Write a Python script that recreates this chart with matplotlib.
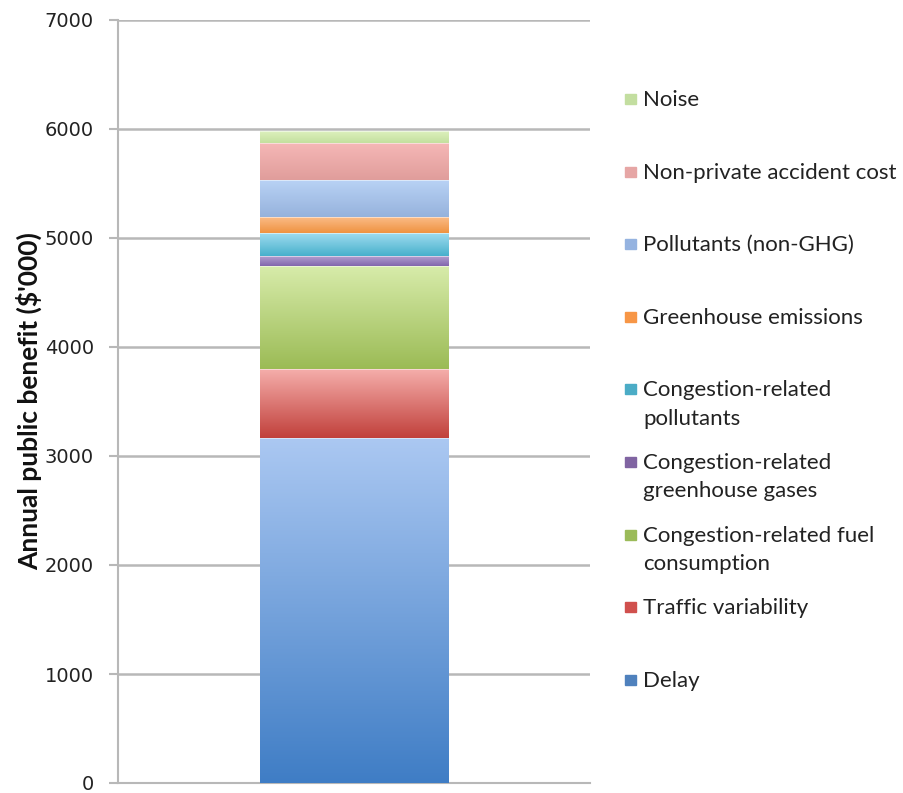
import numpy as np
import matplotlib
matplotlib.use("Agg")
import matplotlib.pyplot as plt
from matplotlib.colors import LinearSegmentedColormap
from matplotlib.patches import Rectangle

# ---- data (bottom to top) ----
categories = ["Delay", "Traffic variability", "Congestion-related fuel\nconsumption",
              "Congestion-related\ngreenhouse gases", "Congestion-related\npollutants",
              "Greenhouse emissions", "Pollutants (non-GHG)", "Non-private accident cost",
              "Noise"]
values = [3165, 630, 945, 95, 211, 150, 336, 340, 110]
y_ticks = [0, 1000, 2000, 3000, 4000, 5000, 6000, 7000]

# gradient colours (top, bottom)
top_colors = ["#abc8f2", "#f5aeab", "#d8ecab", "#b6a4d3", "#9fdcef", "#fbbe8c",
              "#b9d2f5", "#f6b8b7", "#dcf0bd"]
bot_colors = ["#3f7dc5", "#c1403b", "#9bbb55", "#8366ad", "#47b0cc", "#ef9340",
              "#95b2dc", "#e09d9b", "#c4e09e"]
legend_colors = ["#4f81bd", "#d0504d", "#9bbb59", "#8064a2", "#4bacc6", "#f79646",
                 "#95b3e0", "#e6a6a5", "#c3dea0"]

fig = plt.figure(figsize=(9.04, 7.93), dpi=100)
ax = fig.add_axes([118/904, 1-783/793, (590-118)/904, (783-20)/793])

bars = []
bottom = 0
for v in values:
    b = ax.bar(0, v, width=0.8, bottom=bottom, color="none", edgecolor="none", zorder=3)
    bars.append(b[0])
    bottom += v

grad = np.linspace(0, 1, 256).reshape(-1, 1)
for patch, tc, bc in zip(bars, top_colors, bot_colors):
    cmap = LinearSegmentedColormap.from_list("g", [bc, tc])
    x0, y0 = patch.get_x(), patch.get_y()
    w, h = patch.get_width(), patch.get_height()
    ax.imshow(grad, extent=[x0, x0 + w, y0, y0 + h], origin="lower",
              aspect="auto", cmap=cmap, zorder=3, interpolation="bilinear")
    ax.plot([x0, x0 + w], [y0 + h, y0 + h], color="white", lw=0.6, alpha=0.6, zorder=4)

ax.set_xlim(-1, 1)
ax.set_ylim(0, 7000)
ax.set_aspect("auto")
ax.set_yticks(y_ticks)
ax.set_yticklabels([str(t) for t in y_ticks], fontfamily="DejaVu Sans", fontsize=14,
                   color="#222222")
ax.set_xticks([])
ax.yaxis.grid(True, color="#b8b8b8", lw=1.8, zorder=0)
ax.set_axisbelow(True)
for s in ["top", "right"]:
    ax.spines[s].set_visible(False)
ax.spines["left"].set_color("#b8b8b8")
ax.spines["left"].set_linewidth(1.5)
ax.spines["bottom"].set_color("#b8b8b8")
ax.spines["bottom"].set_linewidth(1.5)
ax.tick_params(axis="y", length=6.5, width=1.5, color="#b8b8b8", pad=11)
ax.set_ylabel("Annual public benefit ($'000)", fontfamily="Lato", fontweight="bold",
              fontsize=19, color="#111111")
ax.yaxis.set_label_coords(-76/472, 0.5)

# legend (Excel style: first lines equally spaced, reversed order)
W, H = 904, 793
y_top, y_bot = 100, 681
line_h = 28
n = len(categories)
for i, (lab, col) in enumerate(zip(categories[::-1], legend_colors[::-1])):
    yc = y_top + (y_bot - y_top) * i / (n - 1)
    nlines = lab.count("\n") + 1
    fig.patches.append(Rectangle((625/W, 1 - (yc + 4)/H), 11/W, 10/H,
                                 transform=fig.transFigure, color=col))
    fig.text(643/W, 1 - (yc + (nlines - 1) * line_h / 2)/H, lab, fontfamily="Lato",
             fontsize=16, va="center", ha="left", color="#222222", linespacing=1.52)

fig.savefig("out.png", dpi=100)
